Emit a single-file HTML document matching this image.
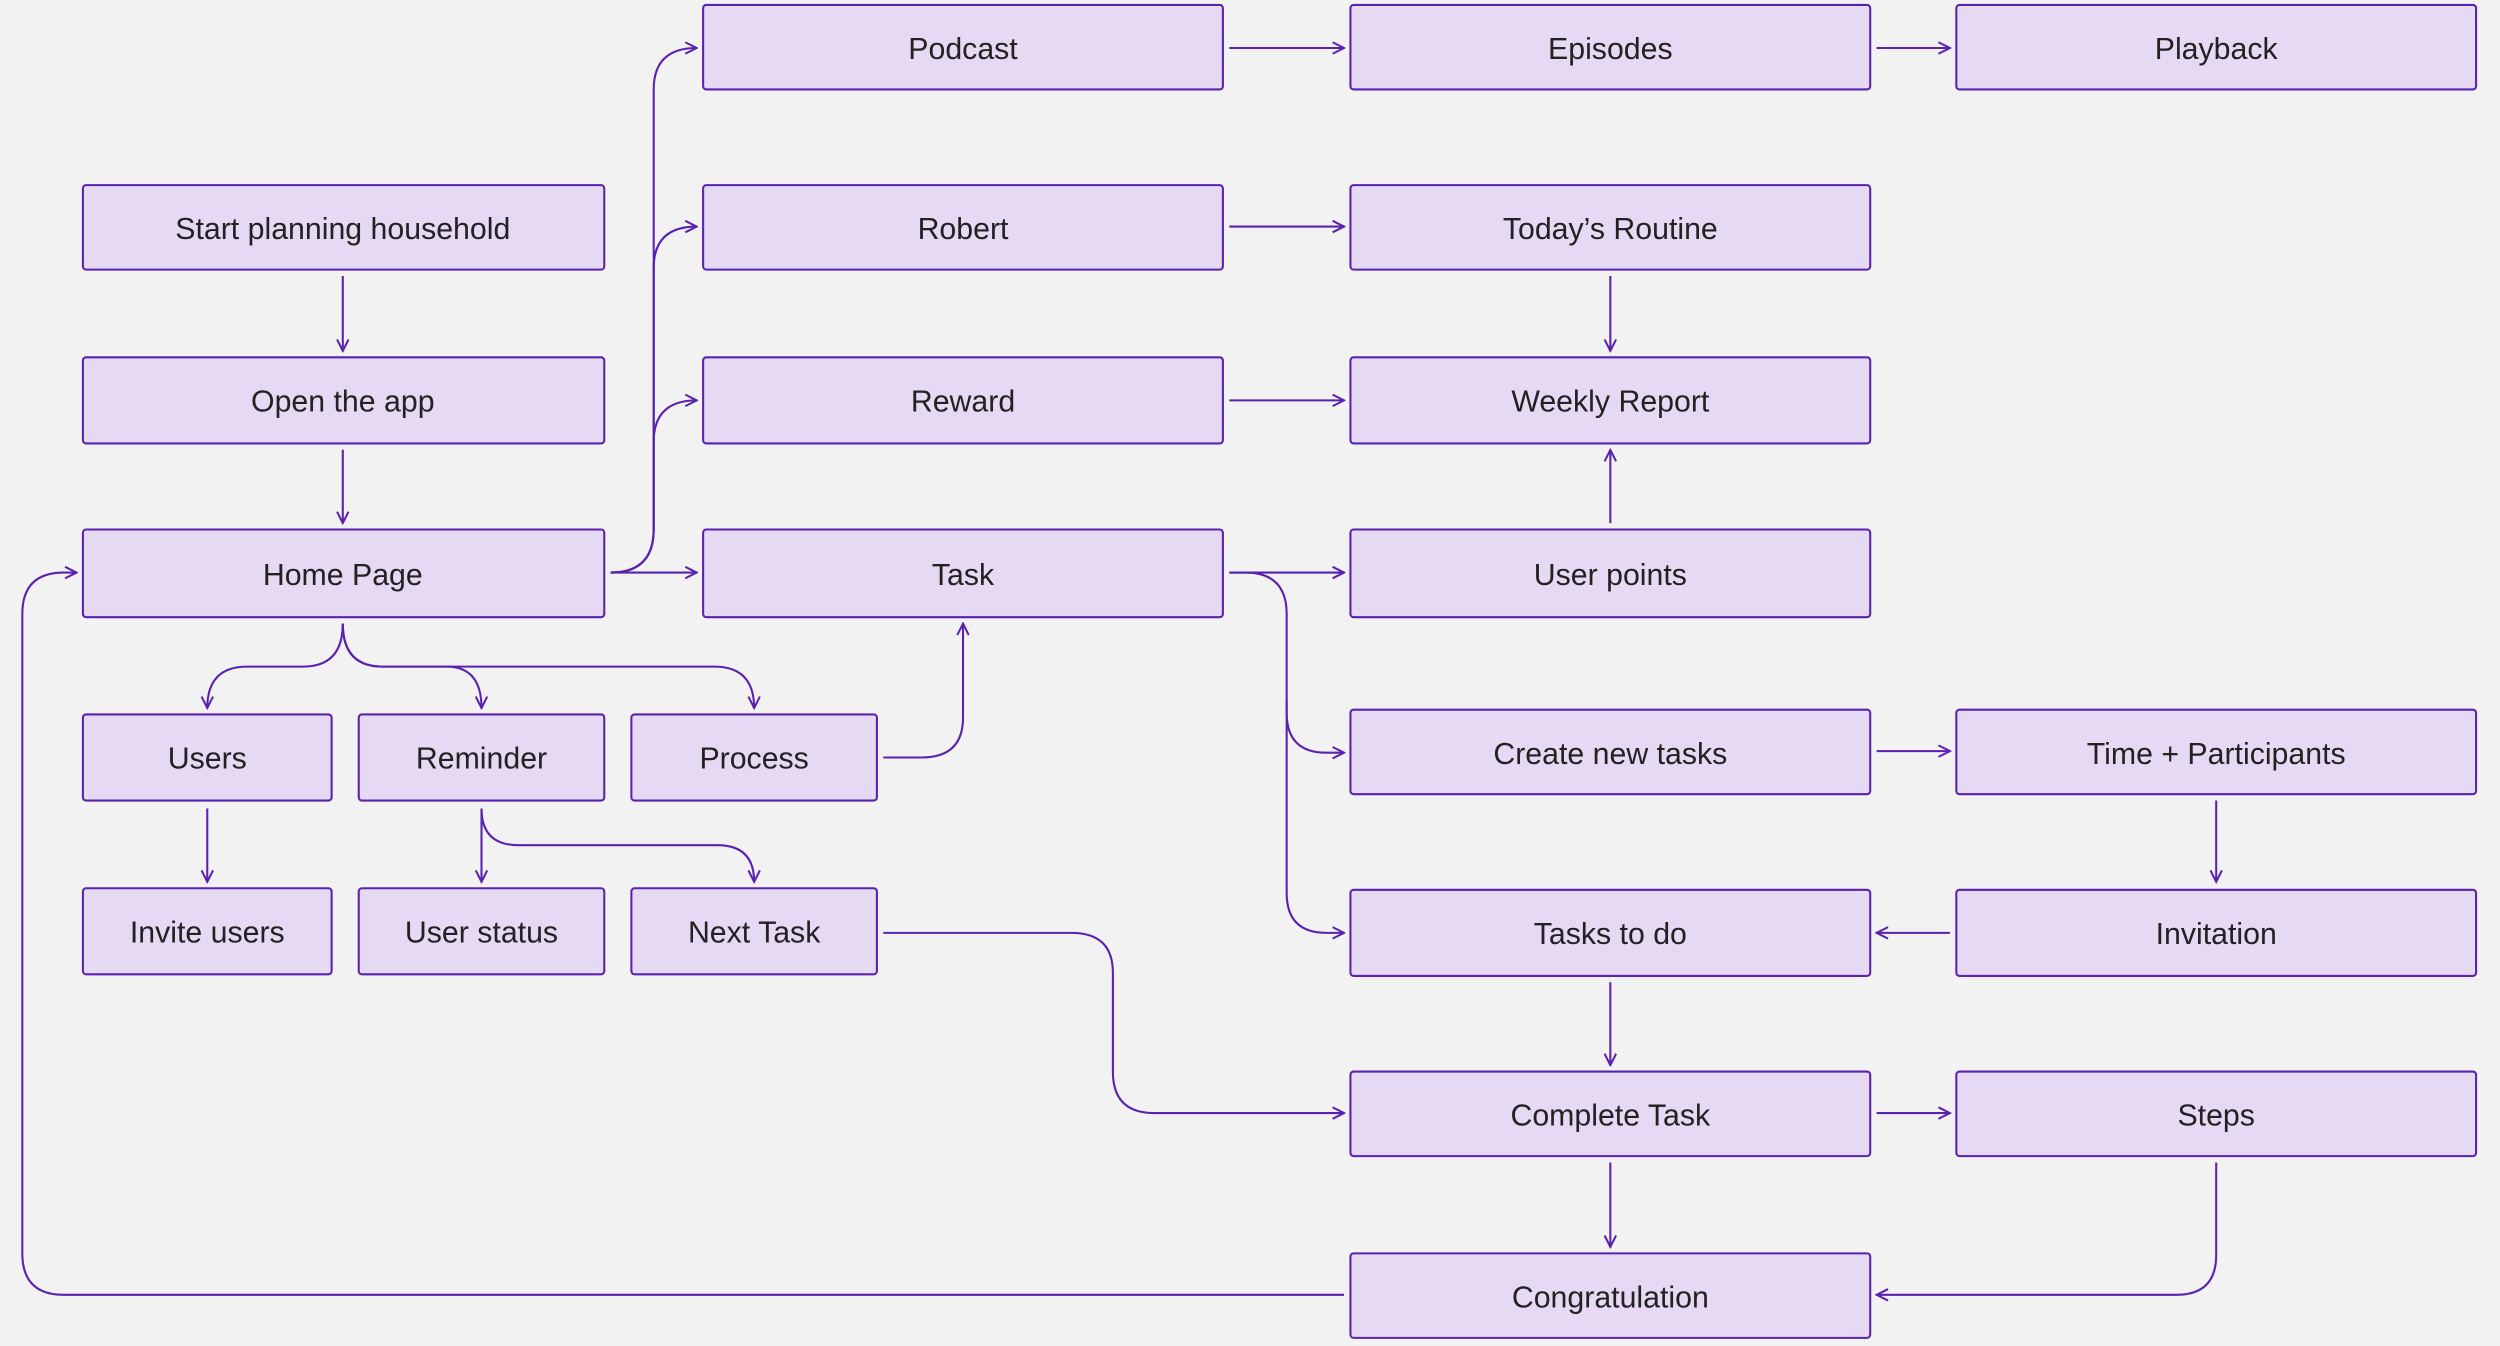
<!DOCTYPE html>
<html><head><meta charset="utf-8"><style>
html,body{margin:0;padding:0;background:#f2f2f2;}
svg{display:block}
text{font-family:"Liberation Sans",Arial,sans-serif;font-size:19px;fill:#222;text-anchor:middle;dominant-baseline:central}
.b{fill:#e6d9f4;stroke:#5a22b0;stroke-width:1.3}
.c{fill:none;stroke:#5a22b0;stroke-width:1.3;marker-end:url(#a)}
</style></head><body>
<svg width="2500" height="1346" viewBox="0 0 1568 844" xmlns="http://www.w3.org/2000/svg">
<defs><marker id="a" viewBox="0 0 10 10" refX="9" refY="5" markerWidth="9" markerHeight="9" markerUnits="userSpaceOnUse" orient="auto"><path d="M1,1 L9,5 L1,9" fill="none" stroke="#5a22b0" stroke-width="1.4"/></marker></defs>
<rect width="1568" height="844" fill="#f2f2f2"/>
<g>
<rect class="b" x="52" y="116" width="327" height="53" rx="2"/><text x="215" y="144">Start planning household</text>
<rect class="b" x="52" y="224" width="327" height="54" rx="2"/><text x="215" y="252">Open the app</text>
<rect class="b" x="52" y="332" width="327" height="55" rx="2"/><text x="215" y="361">Home Page</text>
<rect class="b" x="52" y="448" width="156" height="54" rx="2"/><text x="130" y="476">Users</text>
<rect class="b" x="225" y="448" width="154" height="54" rx="2"/><text x="302" y="476">Reminder</text>
<rect class="b" x="396" y="448" width="154" height="54" rx="2"/><text x="473" y="476">Process</text>
<rect class="b" x="52" y="557" width="156" height="54" rx="2"/><text x="130" y="585">Invite users</text>
<rect class="b" x="225" y="557" width="154" height="54" rx="2"/><text x="302" y="585">User status</text>
<rect class="b" x="396" y="557" width="154" height="54" rx="2"/><text x="473" y="585">Next Task</text>
<rect class="b" x="441" y="3" width="326" height="53" rx="2"/><text x="604" y="31">Podcast</text>
<rect class="b" x="441" y="116" width="326" height="53" rx="2"/><text x="604" y="144">Robert</text>
<rect class="b" x="441" y="224" width="326" height="54" rx="2"/><text x="604" y="252">Reward</text>
<rect class="b" x="441" y="332" width="326" height="55" rx="2"/><text x="604" y="361">Task</text>
<rect class="b" x="847" y="3" width="326" height="53" rx="2"/><text x="1010" y="31">Episodes</text>
<rect class="b" x="847" y="116" width="326" height="53" rx="2"/><text x="1010" y="144">Today’s Routine</text>
<rect class="b" x="847" y="224" width="326" height="54" rx="2"/><text x="1010" y="252">Weekly Report</text>
<rect class="b" x="847" y="332" width="326" height="55" rx="2"/><text x="1010" y="361">User points</text>
<rect class="b" x="847" y="445" width="326" height="53" rx="2"/><text x="1010" y="473">Create new tasks</text>
<rect class="b" x="847" y="558" width="326" height="54" rx="2"/><text x="1010" y="586">Tasks to do</text>
<rect class="b" x="847" y="672" width="326" height="53" rx="2"/><text x="1010" y="700">Complete Task</text>
<rect class="b" x="847" y="786" width="326" height="53" rx="2"/><text x="1010" y="814">Congratulation</text>
<rect class="b" x="1227" y="3" width="326" height="53" rx="2"/><text x="1390" y="31">Playback</text>
<rect class="b" x="1227" y="445" width="326" height="53" rx="2"/><text x="1390" y="473">Time + Participants</text>
<rect class="b" x="1227" y="558" width="326" height="54" rx="2"/><text x="1390" y="586">Invitation</text>
<rect class="b" x="1227" y="672" width="326" height="53" rx="2"/><text x="1390" y="700">Steps</text>
</g>
<g>
<path class="c" d="M215,173 V220"/>
<path class="c" d="M215,282 V328"/>
<path class="c" d="M383,359 H437"/>
<path class="c" d="M383,359 Q410,359 410,332 V56 Q410,30 437,30"/>
<path class="c" d="M383,359 Q410,359 410,332 V168 Q410,142 437,142"/>
<path class="c" d="M383,359 Q410,359 410,332 V277 Q410,251 437,251"/>
<path class="c" d="M215,391 Q215,418 190,418 H155 Q130,418 130,444"/>
<path class="c" d="M215,391 Q215,418 240,418 H280 Q302,418 302,444"/>
<path class="c" d="M215,391 Q215,418 240,418 H448 Q473,418 473,444"/>
<path class="c" d="M554,475 H578 Q604,475 604,450 V391"/>
<path class="c" d="M130,507 V553"/>
<path class="c" d="M302,507 V553"/>
<path class="c" d="M302,507 Q302,530 325,530 H450 Q473,530 473,553"/>
<path class="c" d="M554,585 H672 Q698,585 698,610 V672 Q698,698 724,698 H843"/>
<path class="c" d="M771,359 H843"/>
<path class="c" d="M771,359 H781 Q807,359 807,385 V447 Q807,472 832,472 H843"/>
<path class="c" d="M807,440 V560 Q807,585 832,585 H843"/>
<path class="c" d="M771,30 H843"/>
<path class="c" d="M1177,30 H1223"/>
<path class="c" d="M771,142 H843"/>
<path class="c" d="M771,251 H843"/>
<path class="c" d="M1010,173 V220"/>
<path class="c" d="M1010,328 V282"/>
<path class="c" d="M1177,471 H1223"/>
<path class="c" d="M1390,502 V553"/>
<path class="c" d="M1223,585 H1177"/>
<path class="c" d="M1010,616 V668"/>
<path class="c" d="M1177,698 H1223"/>
<path class="c" d="M1010,729 V782"/>
<path class="c" d="M1390,729 V787 Q1390,812 1365,812 H1177"/>
<path class="c" d="M843,812 H40 Q14,812 14,786 V385 Q14,359 40,359 H48"/>
</g>
</svg>
</body></html>
